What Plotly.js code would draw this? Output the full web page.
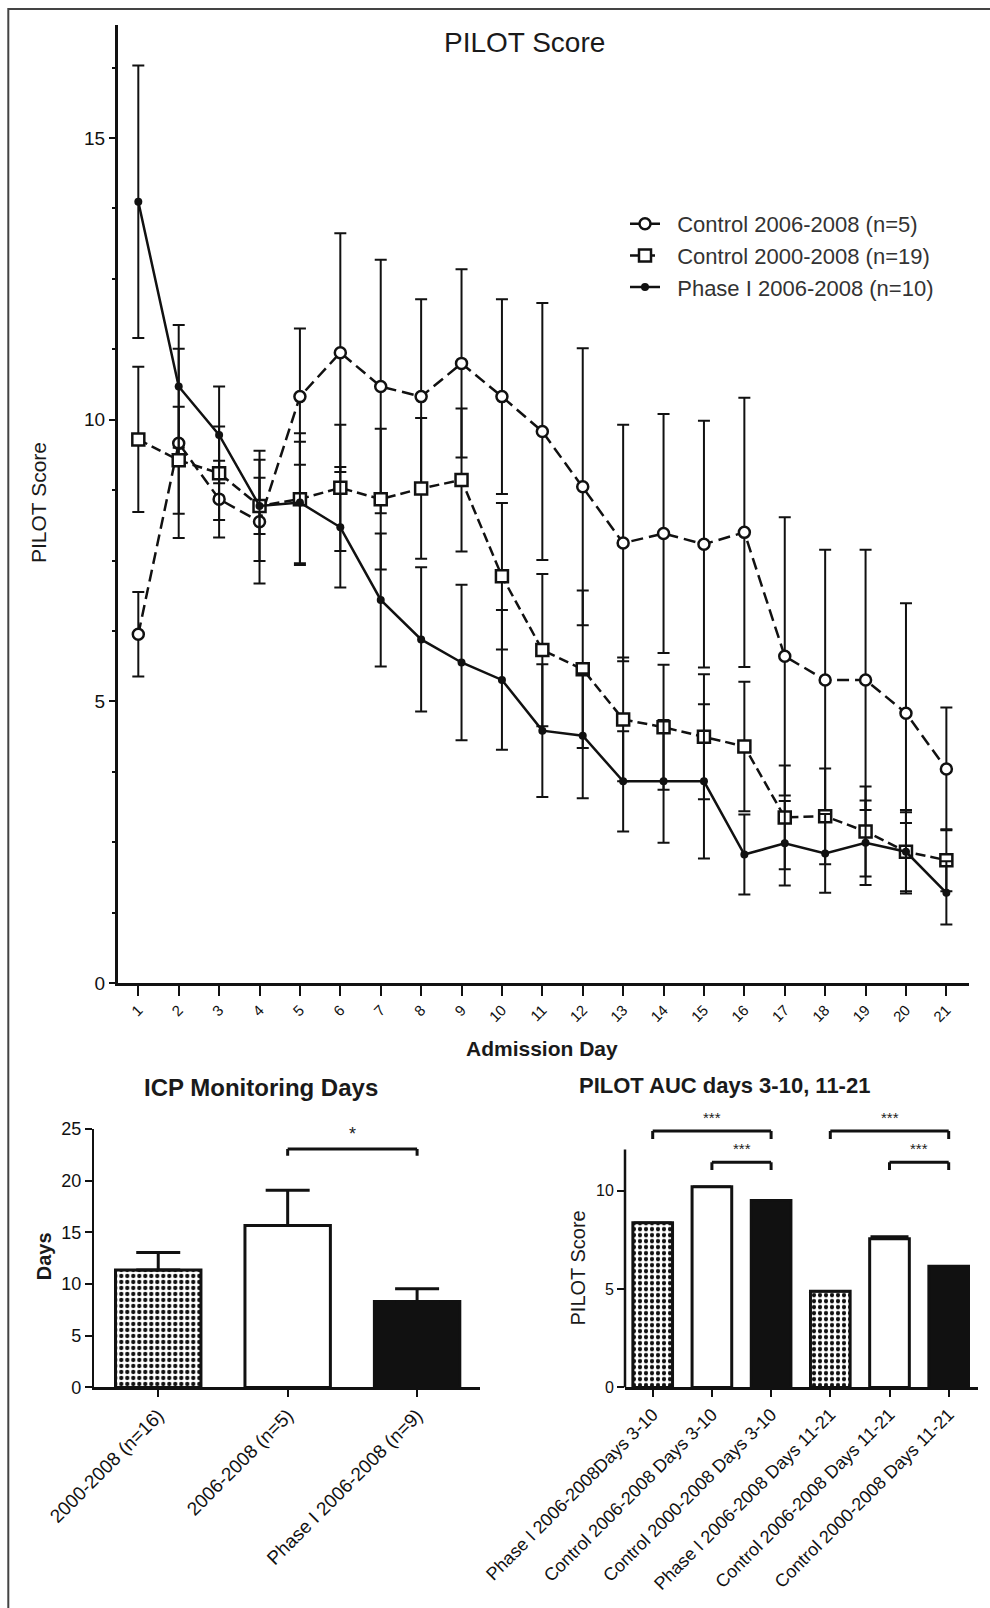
<!DOCTYPE html>
<html><head><meta charset="utf-8">
<script src="https://cdn.plot.ly/plotly-3.0.1.min.js"></script>
<style>html,body{margin:0;padding:0;background:#fff}#chart{width:990px;height:1608px}</style>
</head><body><div id="chart"></div>
<script>
// ---------- data: top chart ----------
const days = [1,2,3,4,5,6,7,8,9,10,11,12,13,14,15,16,17,18,19,20,21];
const ctrl0608 = [6.19,9.58,8.59,8.19,10.41,11.19,10.59,10.41,11.00,10.41,9.79,8.81,7.81,7.98,7.79,8.00,5.80,5.38,5.38,4.79,3.80];
const ctrl0608Err = [0.75,1.68,0.68,1.10,1.21,2.12,2.25,1.73,1.67,1.73,2.28,2.46,2.10,2.12,2.19,2.39,2.47,2.31,2.31,1.95,1.09];
const ctrl0008 = [9.65,9.28,9.05,8.47,8.59,8.79,8.59,8.78,8.93,7.22,5.91,5.57,4.68,4.54,4.37,4.20,2.94,2.96,2.69,2.33,2.18];
const ctrl0008Err = [1.29,0.95,0.83,0.50,1.17,1.12,1.25,1.25,1.27,1.30,1.35,1.40,1.10,1.11,1.11,1.15,0.92,0.85,0.80,0.70,0.55];
const phase1 = [13.87,10.59,9.73,8.47,8.53,8.09,6.80,6.10,5.69,5.38,4.48,4.39,3.58,3.58,3.58,2.28,2.48,2.30,2.49,2.33,1.60];
const phase1Err = [2.42,1.09,0.86,0.98,1.08,1.07,1.18,1.28,1.38,1.24,1.18,1.11,0.89,1.09,1.37,0.71,0.75,0.70,0.75,0.74,0.56];
const seriesNames = ["Control 2006-2008 (n=5)", "Control 2000-2008 (n=19)", "Phase I 2006-2008 (n=10)"];

// ---------- data: ICP monitoring days ----------
const icpLabels = ["2000-2008 (n=16)", "2006-2008 (n=5)", "Phase I 2006-2008 (n=9)"];
const icpDays = [11.35, 15.66, 8.30];
const icpErr = [1.69, 3.42, 1.25];

// ---------- data: PILOT AUC ----------
const aucLabels = ["Phase I 2006-2008Days 3-10", "Control 2006-2008 Days 3-10", "Control 2000-2008 Days 3-10",
                   "Phase I 2006-2008 Days 11-21", "Control 2006-2008 Days 11-21", "Control 2000-2008 Days 11-21"];
const aucScore = [8.38, 10.21, 9.51, 4.89, 7.56, 6.16];
const aucErr = [0, 0, 0, 0, 0.12, 0];

// ---------- significance marks ----------
const icpSig = [{from: 1, to: 2, level: 23.06, drop: 0.66, text: "*"}];
const aucSig = [
  {from: 0, to: 2, level: 13.04, drop: 0.40, text: "***"},
  {from: 1, to: 2, level: 11.46, drop: 0.40, text: "***"},
  {from: 3, to: 5, level: 13.04, drop: 0.40, text: "***"},
  {from: 4, to: 5, level: 11.46, drop: 0.40, text: "***"}
];
const aucAxisTop = 12.1;

// ---------- styling ----------
const FONT = "Liberation Sans, Arial, sans-serif";
const INK = "#111";
const W = 990, H = 1608;
const px = v => v / W;
const py = v => (H - v) / H;

function errY(arr, w, t) {
  return {type: 'data', array: arr, visible: true, color: INK, thickness: t, width: w};
}

const NB = "\u00a0\u00a0";
const traces = [
  {x: days, y: ctrl0608, name: NB + seriesNames[0], type: 'scatter', mode: 'lines+markers',
   line: {color: INK, width: 2.5, dash: '12px,6px'},
   marker: {symbol: 'circle', size: 11, color: '#fff', line: {color: INK, width: 2.5}},
   error_y: errY(ctrl0608Err, 6, 2), xaxis: 'x', yaxis: 'y'},
  {x: days, y: ctrl0008, name: NB + seriesNames[1], type: 'scatter', mode: 'lines+markers',
   line: {color: INK, width: 2.5, dash: '10px,5px'},
   marker: {symbol: 'square', size: 12, color: '#fff', line: {color: INK, width: 2.5}},
   error_y: errY(ctrl0008Err, 6, 2), xaxis: 'x', yaxis: 'y'},
  {x: days, y: phase1, name: NB + seriesNames[2], type: 'scatter', mode: 'lines+markers',
   line: {color: INK, width: 2.5},
   marker: {symbol: 'circle', size: 8, color: INK},
   error_y: errY(phase1Err, 6, 2), xaxis: 'x', yaxis: 'y'},
  {x: icpLabels, y: icpDays, type: 'bar', width: 0.66, showlegend: false, xaxis: 'x2', yaxis: 'y2',
   marker: {color: ['#111', '#fff', '#111'],
            pattern: {shape: ['.', '', ''], fgcolor: '#fff', bgcolor: '#111', size: 6, solidity: 0.4},
            line: {color: INK, width: 3}},
   error_y: {type: 'data', symmetric: false, array: icpErr, arrayminus: icpErr.map(() => 0),
             color: INK, thickness: 3, width: 22}},
  {x: aucLabels, y: aucScore, type: 'bar', width: 0.67, showlegend: false, xaxis: 'x3', yaxis: 'y3',
   marker: {color: ['#111', '#fff', '#111', '#111', '#fff', '#111'],
            pattern: {shape: ['.', '', '', '.', '', ''], fgcolor: '#fff', bgcolor: '#111', size: 6, solidity: 0.4},
            line: {color: INK, width: 3}},
   error_y: {type: 'data', symmetric: false, array: aucErr, arrayminus: aucErr.map(() => 0),
             color: INK, thickness: 2.5, width: 19}}
];

const tickBase = {ticks: 'outside', tickcolor: INK, tickwidth: 2, showline: true, linecolor: INK,
                  linewidth: 2.5, showgrid: false, zeroline: false, fixedrange: true};

const shapes = [
  {type: 'rect', xref: 'paper', yref: 'paper', x0: px(8.3), x1: 1.02, y0: -0.02, y1: py(9),
   line: {color: '#444', width: 2}, fillcolor: 'rgba(0,0,0,0)', layer: 'below'},
  {type: 'line', xref: 'x3 domain', yref: 'y3', x0: 0, x1: 0, y0: 0, y1: aucAxisTop,
   line: {color: INK, width: 2.5}}
];
const annotations = [];
function addSig(list, xr, yr, fs) {
  list.forEach(s => {
    const ln = {color: INK, width: 3};
    shapes.push({type: 'line', xref: xr, yref: yr, x0: s.from, x1: s.to, y0: s.level, y1: s.level, line: ln});
    shapes.push({type: 'line', xref: xr, yref: yr, x0: s.from, x1: s.from, y0: s.level - s.drop, y1: s.level, line: ln});
    shapes.push({type: 'line', xref: xr, yref: yr, x0: s.to, x1: s.to, y0: s.level - s.drop, y1: s.level, line: ln});
    annotations.push({xref: xr, yref: yr, x: (s.from + s.to) / 2, y: s.level, text: s.text, showarrow: false,
                      yanchor: 'bottom', yshift: 3, font: {family: FONT, size: fs, color: '#222'}});
  });
}
addSig(icpSig, 'x2', 'y2', 18);
addSig(aucSig, 'x3', 'y3', 15);

function title(text, x, y, size, bold, angle) {
  annotations.push({xref: 'paper', yref: 'paper', x: px(x), y: py(y), xanchor: 'center', yanchor: 'middle',
    text: bold ? '<b>' + text + '</b>' : text, showarrow: false, textangle: angle || 0,
    font: {family: FONT, size: size, color: '#1a1a1a'}});
}
title('PILOT Score', 524.5, 42, 28, false);
title('Admission Day', 542, 1048, 21, true);
title('PILOT Score', 38, 503, 21, false, -90);
title('ICP Monitoring Days', 260.5, 1087, 24, true);
title('Days', 43.8, 1256.5, 20, true, -90);
title('PILOT AUC days 3-10, 11-21', 724.7, 1085.4, 22, true);
title('PILOT Score', 577.5, 1268, 20, false, -90);

const layout = {
  width: W, height: H, margin: {l: 0, r: 0, t: 0, b: 0},
  paper_bgcolor: '#fff', plot_bgcolor: 'rgba(0,0,0,0)',
  font: {family: FONT, color: INK},
  showlegend: true,
  legend: {x: px(625), y: py(203), xanchor: 'left', yanchor: 'top', bgcolor: 'rgba(0,0,0,0)',
           font: {family: FONT, size: 22, color: '#333'}, itemwidth: 30, tracegroupgap: 0},
  xaxis: Object.assign({}, tickBase, {domain: [px(117.5), px(969)], range: [0.485, 21.56], anchor: 'y',
         tickvals: days, ticktext: days.map(String), tickangle: -45, ticklen: 10,
         tickfont: {family: FONT, size: 15, color: INK}}),
  yaxis: Object.assign({}, tickBase, {domain: [py(983), py(25.4)], range: [0, 17], anchor: 'x',
         tick0: 0, dtick: 5, ticklen: 6, tickfont: {family: FONT, size: 19, color: INK},
         minor: {ticks: 'outside', dtick: 1.25, tick0: 0, ticklen: 3, tickwidth: 2, tickcolor: INK}}),
  xaxis2: Object.assign({}, tickBase, {domain: [px(94.3), px(480)], range: [-0.494, 2.486], anchor: 'y2',
          type: 'category', tickangle: -45, ticklen: 7, tickfont: {family: FONT, size: 19, color: INK}}),
  yaxis2: Object.assign({}, tickBase, {domain: [py(1387.4), py(1129)], range: [0, 25], anchor: 'x2',
          tick0: 0, dtick: 5, ticklen: 7, tickfont: {family: FONT, size: 18, color: INK}}),
  xaxis3: Object.assign({}, tickBase, {domain: [px(625), px(978)], range: [-0.468, 5.495], anchor: 'y3',
          type: 'category', tickangle: -45, ticklen: 7, tickfont: {family: FONT, size: 18, color: INK}}),
  yaxis3: Object.assign({}, tickBase, {domain: [py(1387.4), py(1112.2)], range: [0, 14], anchor: 'x3',
          showline: false, tickvals: [0, 5, 10], ticklen: 7, tickfont: {family: FONT, size: 16, color: INK}}),
  shapes: shapes,
  annotations: annotations
};

Plotly.newPlot('chart', traces, layout, {staticPlot: true, displayModeBar: false});
</script></body></html>
